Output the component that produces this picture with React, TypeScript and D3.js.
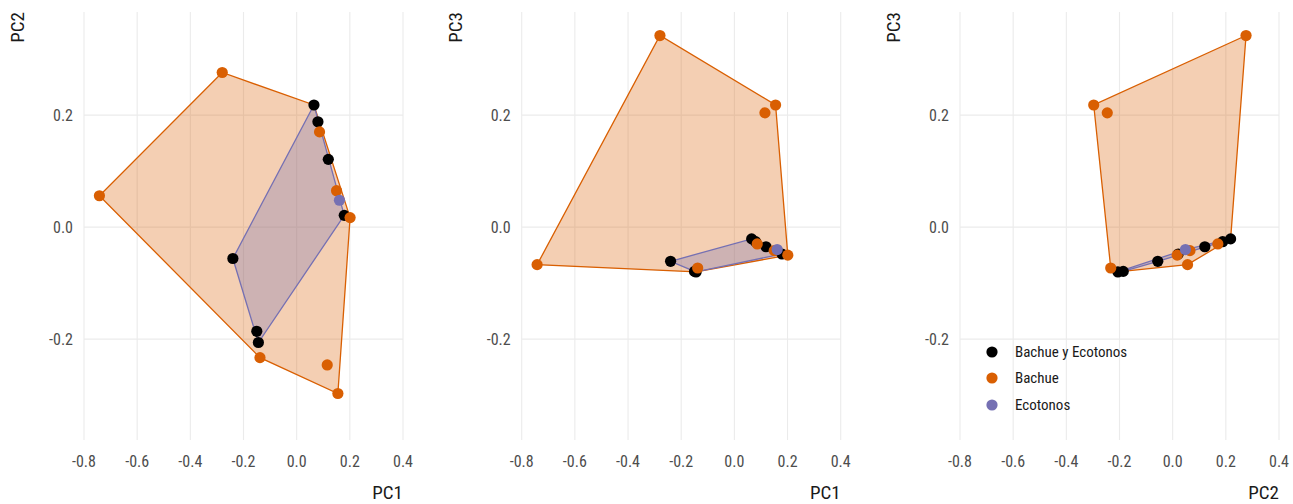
import React from "react";
import * as d3 from "d3";

// ---- data ----
const groups = ["Bachue y Ecotonos", "Bachue", "Ecotonos"];
const groupColors = ["#000000", "#d95f02", "#7570b3"];

// Bachue y Ecotonos (shared)
const sharedPC1 = [0.065, 0.08, 0.119, 0.179, -0.24, -0.15, -0.144];
const sharedPC2 = [0.218, 0.188, 0.121, 0.021, -0.056, -0.186, -0.206];
const sharedPC3 = [-0.021, -0.026, -0.035, -0.048, -0.061, -0.079, -0.08];

// Bachue
const bachuePC1 = [-0.742, -0.28, 0.086, 0.15, 0.201, -0.138, 0.115, 0.155];
const bachuePC2 = [0.056, 0.276, 0.17, 0.065, 0.017, -0.233, -0.246, -0.297];
const bachuePC3 = [-0.067, 0.342, -0.03, -0.042, -0.05, -0.073, 0.204, 0.218];

// Ecotonos
const ecoPC1 = [0.161];
const ecoPC2 = [0.048];
const ecoPC3 = [-0.04];

const xTicks = [-0.8, -0.6, -0.4, -0.2, 0.0, 0.2, 0.4];
const yTicks = [-0.2, 0.0, 0.2];
const xLimits = [-0.8, 0.4];
const yLimits = [-0.38, 0.384];

type Pt = { pc: number[]; g: number };

const mk = (a: number[], b: number[], c: number[], g: number): Pt[] =>
  a.map((v, i) => ({ pc: [v, b[i], c[i]], g }));

const shared = mk(sharedPC1, sharedPC2, sharedPC3, 0);
const bachue = mk(bachuePC1, bachuePC2, bachuePC3, 1);
const eco = mk(ecoPC1, ecoPC2, ecoPC3, 2);
const allPts = [...shared, ...bachue, ...eco];

const panels = [
  { xi: 0, yi: 1, xLab: "PC1", yLab: "PC2", left: 84 },
  { xi: 0, yi: 2, xLab: "PC1", yLab: "PC3", left: 521.7 },
  { xi: 1, yi: 2, xLab: "PC2", yLab: "PC3", left: 960 },
];

const PW = 319;
const TOP = 12;
const BOTTOM = 440;
const FONT = "'Roboto Condensed', 'Liberation Sans Narrow', Roboto, sans-serif";

function fmt(v: number) {
  return d3.format(".1f")(v).replace("−", "-");
}

function Panel({ p }: { p: (typeof panels)[number] }) {
  const x = d3.scaleLinear().domain(xLimits).range([p.left, p.left + PW]);
  const y = d3.scaleLinear().domain(yLimits).range([BOTTOM, TOP]);
  const hull = (pts: Pt[]) => {
    const h = d3.polygonHull(pts.map((d) => [x(d.pc[p.xi]), y(d.pc[p.yi])] as [number, number]));
    return h ? "M" + h.map((q) => q.join(",")).join("L") + "Z" : "";
  };
  const bachueHull = hull([...bachue, ...shared]);
  const ecoHull = hull([...eco, ...shared]);
  return (
    <g>
      {xTicks.map((t) => (
        <line key={"gx" + t} x1={x(t)} x2={x(t)} y1={TOP} y2={BOTTOM} stroke="#ebebeb" strokeWidth={1.1} />
      ))}
      {yTicks.map((t) => (
        <line key={"gy" + t} x1={p.left} x2={p.left + PW} y1={y(t)} y2={y(t)} stroke="#ebebeb" strokeWidth={1.1} />
      ))}
      <path d={bachueHull} fill="#d95f02" fillOpacity={0.3} stroke="#d95f02" strokeWidth={1.3} />
      <path d={ecoHull} fill="#7570b3" fillOpacity={0.3} stroke="#7570b3" strokeWidth={1.3} />
      {allPts.map((d, i) => (
        <circle key={i} cx={x(d.pc[p.xi])} cy={y(d.pc[p.yi])} r={5.6} fill={groupColors[d.g]} />
      ))}
      {xTicks.map((t) => (
        <text key={"tx" + t} x={x(t)} y={467} textAnchor="middle" fontSize={16} fill="#4d4d4d" fontFamily={FONT}>
          {fmt(t)}
        </text>
      ))}
      {yTicks.map((t) => (
        <text key={"ty" + t} x={p.left - 11} y={y(t)} dy="0.36em" textAnchor="end" fontSize={16} fill="#4d4d4d" fontFamily={FONT}>
          {fmt(t)}
        </text>
      ))}
      <text x={p.left + PW} y={499} textAnchor="end" fontSize={19} fill="#1a1a1a" fontFamily={FONT}>
        {p.xLab}
      </text>
      <text
        transform={`translate(${p.left - 60},${TOP}) rotate(-90)`}
        textAnchor="end"
        fontSize={19}
        fill="#1a1a1a"
        fontFamily={FONT}
      >
        {p.yLab}
      </text>
    </g>
  );
}

export default function App() {
  const legendY = [352, 378, 405];
  return (
    <svg
      width={1293}
      height={504}
      style={{ position: "absolute", left: 0, top: 0, background: "#fff" }}
    >
      <rect width={1293} height={504} fill="#fff" />
      {panels.map((p, i) => (
        <Panel key={i} p={p} />
      ))}
      <g>
        {groups.map((g, i) => (
          <g key={g}>
            <circle cx={992} cy={legendY[i]} r={5.6} fill={groupColors[i]} />
            <text x={1015} y={legendY[i]} dy="0.36em" fontSize={15} fill="#1a1a1a" fontFamily={FONT}>
              {g}
            </text>
          </g>
        ))}
      </g>
    </svg>
  );
}
